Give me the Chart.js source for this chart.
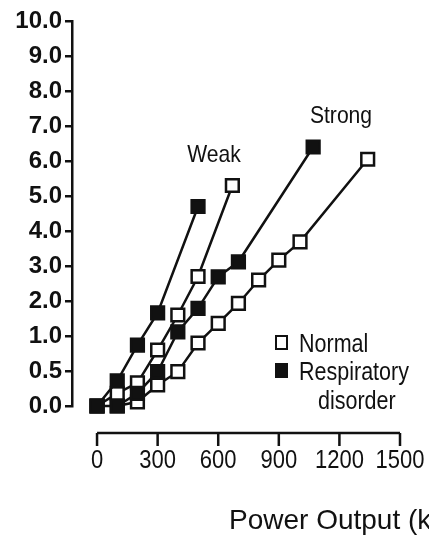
<!DOCTYPE html>
<html>
<head>
<meta charset="utf-8">
<script src="https://cdn.jsdelivr.net/npm/chart.js@4.4.1/dist/chart.umd.min.js"></script>
<style>
  html, body { margin: 0; padding: 0; background: #fff; overflow: hidden; }
  #wrap { width: 429px; height: 539px; position: relative; }
</style>
</head>
<body>
<div id="wrap"><canvas id="chart" width="429" height="539"></canvas></div>
<script>
// eixo Y não linear: cada rótulo ocupa o mesmo espaço
const yTickValues = [0, 0.5, 1, 2, 3, 4, 5, 6, 7, 8, 9, 10];
const yTickLabels = ["0.0", "0.5", "1.0", "2.0", "3.0", "4.0", "5.0", "6.0", "7.0", "8.0", "9.0", "10.0"];
const xTicks = [0, 300, 600, 900, 1200, 1500];

const powerWeakNormal = [0, 100, 200, 300, 400, 500, 670];
const weakNormal = [0, 0.18, 0.33, 0.8, 1.6, 2.7, 5.3];
const powerWeakResp = [0, 100, 200, 300, 500];
const weakResp = [0, 0.36, 0.87, 1.66, 4.7];
const powerStrongNormal = [100, 200, 300, 400, 500, 600, 700, 800, 900, 1005, 1340];
const strongNormal = [0, 0.06, 0.3, 0.49, 0.9, 1.36, 1.93, 2.6, 3.17, 3.69, 6.05];
const powerStrongResp = [0, 100, 200, 300, 400, 500, 600, 700, 1070];
const strongResp = [0, 0, 0.18, 0.49, 1.12, 1.79, 2.69, 3.12, 6.4];

const groupLabels = ["Weak", "Strong"];
const legendLabels = ["Normal", ["Respiratory", "disorder"]];
const xTitle = "Power Output (kpm/min)";

const INK = "#111";
const FONT = "'Liberation Sans', Arial, sans-serif";

// valor real -> posição no eixo (índice do rótulo)
function toIdx(v) {
    for (let i = 0; i < yTickValues.length - 1; i++) {
        const a = yTickValues[i], b = yTickValues[i + 1];
        if (v <= b) return i + (v - a) / (b - a);
    }
    return yTickValues.length - 1;
}
function pts(xs, ys) {
    return xs.map((x, i) => ({ x: x, y: toIdx(ys[i]) }));
}
function serie(xs, ys, filled) {
    return {
        data: pts(xs, ys),
        showLine: true,
        clip: false,
        borderColor: INK,
        borderWidth: 2.5,
        pointStyle: "rect",
        pointRadius: 9,
        pointBorderWidth: 2.5,
        pointBorderColor: INK,
        pointBackgroundColor: filled ? INK : "#fff",
        tension: 0,
    };
}

// texto estreito (fonte condensada simulada com escala horizontal)
function texto(ctx, s, x, y, size, sx, align) {
    ctx.save();
    ctx.font = size + "px " + FONT;
    ctx.textAlign = align || "left";
    ctx.textBaseline = "alphabetic";
    ctx.scale(sx, 1);
    ctx.fillText(s, x / sx, y);
    ctx.restore();
}

// eixo X desenhado à parte, deslocado para baixo do gráfico
const eixoX = {
    id: "eixoX",
    afterDraw(chart) {
        const ctx = chart.ctx, sx = chart.scales.x;
        const y0 = 433;
        ctx.save();
        ctx.strokeStyle = INK;
        ctx.lineWidth = 2.5;
        ctx.beginPath();
        ctx.moveTo(sx.getPixelForValue(xTicks[0]), y0);
        ctx.lineTo(sx.getPixelForValue(xTicks[xTicks.length - 1]), y0);
        xTicks.forEach((t) => {
            const px = sx.getPixelForValue(t);
            ctx.moveTo(px, y0);
            ctx.lineTo(px, y0 + 13);
        });
        ctx.stroke();
        ctx.fillStyle = INK;
        xTicks.forEach((t) => texto(ctx, String(t), sx.getPixelForValue(t), 468, 25, 0.88, "center"));
        texto(ctx, xTitle, 229, 529, 28, 1.0, "left");
        ctx.restore();
    },
};

// rótulos Weak / Strong e legenda
const anotacoes = {
    id: "anotacoes",
    afterDraw(chart) {
        const ctx = chart.ctx;
        ctx.save();
        ctx.fillStyle = INK;
        texto(ctx, groupLabels[0], 214, 162, 24, 0.88, "center");
        texto(ctx, groupLabels[1], 341, 123, 24, 0.88, "center");

        ctx.lineWidth = 2;
        ctx.strokeStyle = INK;
        ctx.fillStyle = "#fff";
        ctx.fillRect(276, 336, 11, 13);
        ctx.strokeRect(276, 336, 11, 13);
        ctx.fillStyle = INK;
        ctx.fillRect(275, 363, 13, 15);
        texto(ctx, legendLabels[0], 299, 352, 25, 0.86, "left");
        texto(ctx, legendLabels[1][0], 299, 380, 25, 0.86, "left");
        texto(ctx, legendLabels[1][1], 318, 409, 25, 0.86, "left");
        ctx.restore();
    },
};

// séries cheias primeiro: ficam por cima das vazias
new Chart(document.getElementById("chart"), {
    type: "scatter",
    data: {
        datasets: [
            serie(powerWeakResp, weakResp, true),
            serie(powerStrongResp, strongResp, true),
            serie(powerWeakNormal, weakNormal, false),
            serie(powerStrongNormal, strongNormal, false),
        ],
    },
    options: {
        responsive: false,
        animation: false,
        events: [],
        layout: { padding: { top: 21, right: 29, bottom: 133, left: 0 } },
        plugins: { legend: { display: false }, tooltip: { enabled: false } },
        scales: {
            x: { type: "linear", display: false, min: -124, max: 1500 },
            y: {
                type: "linear",
                min: 0,
                max: yTickValues.length - 1,
                afterFit(s) { s.width = 72; },
                border: { display: true, color: INK, width: 2.5 },
                grid: { drawOnChartArea: false, drawTicks: true, tickLength: 7, color: INK, lineWidth: 2.5 },
                ticks: {
                    stepSize: 1,
                    padding: 3,
                    color: INK,
                    font: { family: FONT, size: 24, weight: "bold" },
                    callback: (v) => yTickLabels[v],
                },
            },
        },
    },
    plugins: [eixoX, anotacoes],
});
</script>
</body>
</html>
